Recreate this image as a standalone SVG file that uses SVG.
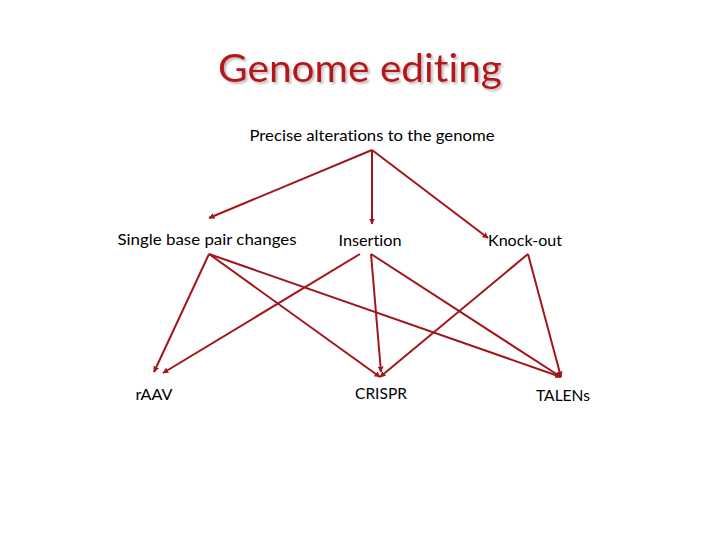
<svg xmlns="http://www.w3.org/2000/svg" width="720" height="540" viewBox="0 0 720 540">
<defs>
<marker id="ah" viewBox="0 0 10 10" refX="9" refY="5" markerWidth="3" markerHeight="3" orient="auto" markerUnits="strokeWidth">
<path d="M0,0 L10,5 L0,10 z" fill="#a0161a"/>
</marker>
<filter id="shadow" x="-10%" y="-20%" width="120%" height="150%">
<feDropShadow dx="2" dy="2" stdDeviation="0.8" flood-color="#9a8a8a" flood-opacity="0.6"/>
</filter>
<style>
.t{font-family:"Lato","Open Sans","Liberation Sans",sans-serif;fill:#000;font-size:15px;font-variant-ligatures:none}
.ttl{font-family:"Lato","Open Sans","Liberation Sans",sans-serif;font-size:38px;fill:#b5161b;font-variant-ligatures:none}
.c{stroke:#a0161a;stroke-width:2;fill:none;marker-end:url(#ah)}
</style>
</defs>
<rect width="720" height="540" fill="#fff"/>
<g id="title">
<text class="ttl" x="360" y="82" text-anchor="middle" textLength="284" lengthAdjust="spacingAndGlyphs" filter="url(#shadow)">Genome editing</text>
</g>
<g id="connectors">
<line class="c" x1="372" y1="150" x2="209" y2="218"/>
<line class="c" x1="372" y1="150" x2="372" y2="224"/>
<line class="c" x1="372" y1="150" x2="488" y2="238"/>
<line class="c" x1="209" y1="254" x2="154" y2="372"/>
<line class="c" x1="209" y1="254" x2="380" y2="377"/>
<line class="c" x1="209" y1="254" x2="561" y2="377"/>
<line class="c" x1="360" y1="254" x2="163" y2="373"/>
<line class="c" x1="371" y1="254" x2="381" y2="372"/>
<line class="c" x1="371" y1="254" x2="561" y2="377"/>
<line class="c" x1="528" y1="254" x2="380" y2="377"/>
<line class="c" x1="528" y1="254" x2="561" y2="377"/>
</g>
<g id="precise"><text class="t" x="372" y="141" text-anchor="middle" textLength="245" lengthAdjust="spacingAndGlyphs">Precise alterations to the genome</text></g>
<g id="single"><text class="t" x="207" y="245" text-anchor="middle" textLength="179" lengthAdjust="spacingAndGlyphs">Single base pair changes</text></g>
<g id="insertion"><text class="t" x="370" y="246" text-anchor="middle" textLength="63" lengthAdjust="spacingAndGlyphs">Insertion</text></g>
<g id="knockout"><text class="t" x="525" y="246" text-anchor="middle" textLength="74" lengthAdjust="spacingAndGlyphs">Knock-out</text></g>
<g id="raav"><text class="t" x="154" y="400" text-anchor="middle" textLength="37" lengthAdjust="spacingAndGlyphs">rAAV</text></g>
<g id="crispr"><text class="t" x="381" y="399" text-anchor="middle" textLength="52" lengthAdjust="spacingAndGlyphs">CRISPR</text></g>
<g id="talens"><text class="t" x="563" y="401" text-anchor="middle" textLength="54" lengthAdjust="spacingAndGlyphs">TALENs</text></g>
</svg>
